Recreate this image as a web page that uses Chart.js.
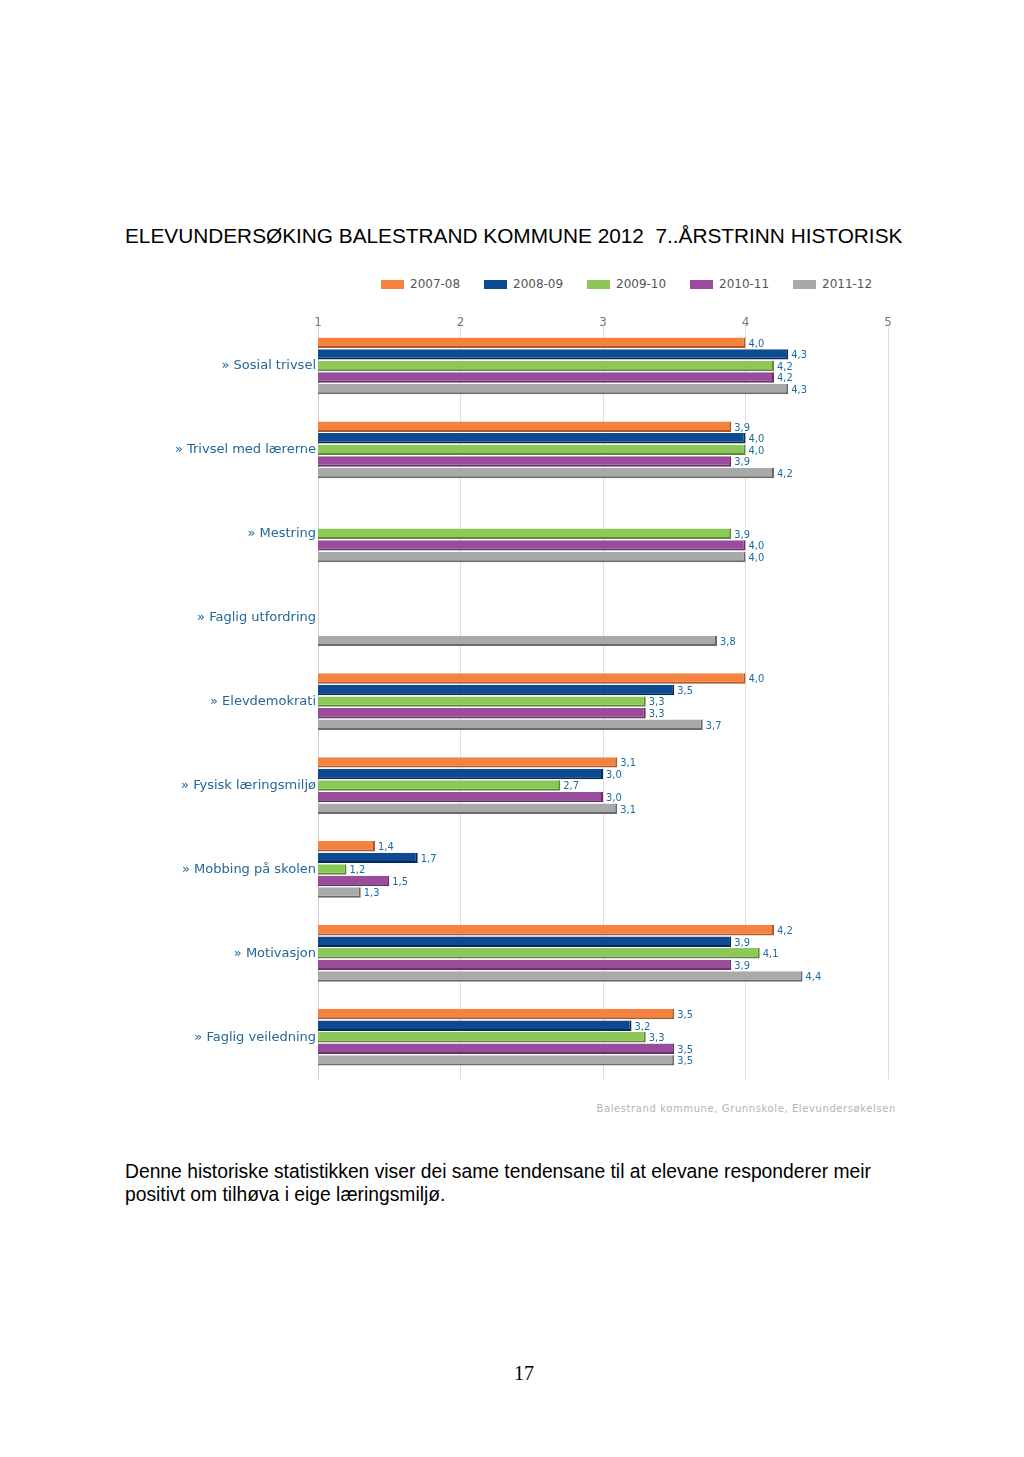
<!DOCTYPE html>
<html>
<head>
<meta charset="utf-8">
<script src="https://cdn.jsdelivr.net/npm/chart.js@4"></script>
<style>
  body { margin: 0; background: #fff; width: 1024px; height: 1457px; position: relative; overflow: hidden; font-family: "Liberation Sans", Arial, sans-serif; }
  #title { position: absolute; left: 125px; top: 224px; font-size: 20.8px; color: #000; white-space: pre; }
  #legend { position: absolute; left: 381px; top: 277px; display: flex; font-family: "DejaVu Sans", sans-serif; font-size: 12px; color: #555; }
  #legend .item { width: 103px; display: flex; align-items: center; }
  #legend .box { width: 23px; height: 9px; margin-right: 6px; }
  #wrap { position: absolute; left: 0; top: 302px; width: 1024px; height: 787px; }
  #source { position: absolute; right: 128px; top: 1103px; font-family: "DejaVu Sans", sans-serif; font-size: 10px; color: #b4b4b4; letter-spacing: 0.6px; }
  #text { position: absolute; left: 125px; top: 1160px; font-size: 19.3px; line-height: 23px; color: #000; }
  #page { position: absolute; left: 24px; width: 1000px; top: 1362px; text-align: center; font-family: "Liberation Serif", serif; font-size: 20px; }
</style>
</head>
<body>
<div id="title">ELEVUNDERSØKING BALESTRAND KOMMUNE 2012  7..ÅRSTRINN HISTORISK</div>
<div id="legend"></div>
<div id="wrap"><canvas id="chart"></canvas></div>
<div id="source">Balestrand kommune, Grunnskole, Elevundersøkelsen</div>
<div id="text">Denne historiske statistikken viser dei same tendensane til at elevane responderer meir<br>positivt om tilhøva i eige læringsmiljø.</div>
<div id="page">17</div>
<script>
const categories = ['Sosial trivsel', 'Trivsel med lærerne', 'Mestring', 'Faglig utfordring',
  'Elevdemokrati', 'Fysisk læringsmiljø', 'Mobbing på skolen', 'Motivasjon', 'Faglig veiledning'];
const years = ['2007-08', '2008-09', '2009-10', '2010-11', '2011-12'];
const v2007 = [4.0, 3.9, null, null, 4.0, 3.1, 1.4, 4.2, 3.5];
const v2008 = [4.3, 4.0, null, null, 3.5, 3.0, 1.7, 3.9, 3.2];
const v2009 = [4.2, 4.0, 3.9, null, 3.3, 2.7, 1.2, 4.1, 3.3];
const v2010 = [4.2, 3.9, 4.0, null, 3.3, 3.0, 1.5, 3.9, 3.5];
const v2011 = [4.3, 4.2, 4.0, 3.8, 3.7, 3.1, 1.3, 4.4, 3.5];
const xTicks = [1, 2, 3, 4, 5];

const colors = ['#f5823e', '#0c4a92', '#8cc757', '#994c9c', '#a9a9a9'];
const edges = ['#b05a25', '#062a5a', '#5c8a35', '#66306a', '#6a6a6a'];
const series = [v2007, v2008, v2009, v2010, v2011];

const legend = document.getElementById('legend');
years.forEach((y, i) => {
  legend.innerHTML += `<div class="item"><span class="box" style="background:${colors[i]}"></span>${y}</div>`;
});

// tick labels of the top axis sit a little inside the plot, so draw them here
const topTicks = {
  id: 'topTicks',
  afterDraw(chart) {
    const ctx = chart.ctx;
    const x = chart.scales.x;
    ctx.save();
    ctx.font = '12px "DejaVu Sans", sans-serif';
    ctx.fillStyle = '#777';
    ctx.textAlign = 'center';
    ctx.textBaseline = 'middle';
    xTicks.forEach(t => ctx.fillText(String(t), x.getPixelForValue(t), chart.chartArea.top - 1));
    ctx.restore();
  }
};

const valueLabels = {
  id: 'valueLabels',
  afterDatasetsDraw(chart) {
    const ctx = chart.ctx;
    ctx.save();
    ctx.font = '11px "DejaVu Sans Condensed", "DejaVu Sans", sans-serif';
    ctx.textBaseline = 'middle';
    chart.data.datasets.forEach((ds, i) => {
      chart.getDatasetMeta(i).data.forEach((bar, j) => {
        const v = ds.data[j];
        if (v === null) return;
        const txt = v.toFixed(1).replace('.', ',');
        const w = ctx.measureText(txt).width;
        ctx.fillStyle = '#fff';
        ctx.fillRect(bar.x + 1, bar.y - 6, w + 5, 12);
        ctx.fillStyle = '#1b6aa0';
        ctx.fillText(txt, bar.x + 3, bar.y + 1);
      });
    });
    ctx.restore();
  }
};

new Chart(document.getElementById('chart'), {
  type: 'bar',
  data: {
    labels: categories.map(c => '» ' + c),
    datasets: years.map((y, i) => ({
      label: y,
      data: series[i],
      backgroundColor: colors[i],
      borderColor: edges[i],
      borderWidth: { top: 0, left: 0, right: 2, bottom: 2 },
      borderSkipped: false,
      categoryPercentage: 0.69,
      barPercentage: 0.9
    }))
  },
  options: {
    indexAxis: 'y',
    responsive: true,
    maintainAspectRatio: false,
    animation: false,
    layout: { padding: { left: 0, right: 136, top: 0, bottom: 0 } },
    plugins: { legend: { display: false }, tooltip: { enabled: false } },
    scales: {
      x: {
        position: 'top',
        min: 1, max: 5,
        afterFit(scale) { scale.height = 22; },
        afterBuildTicks(scale) { scale.ticks = xTicks.map(v => ({ value: v })); },
        ticks: { display: false },
        grid: { color: '#dedede', drawTicks: false },
        border: { display: false }
      },
      y: {
        afterFit(scale) { scale.width = 318; },
        ticks: { padding: 2, color: '#22679a', font: { family: 'DejaVu Sans', size: 13 } },
        grid: { display: false, drawTicks: false },
        border: { display: true, color: '#cfcfcf' }
      }
    }
  },
  plugins: [valueLabels, topTicks]
});
</script>
</body>
</html>
